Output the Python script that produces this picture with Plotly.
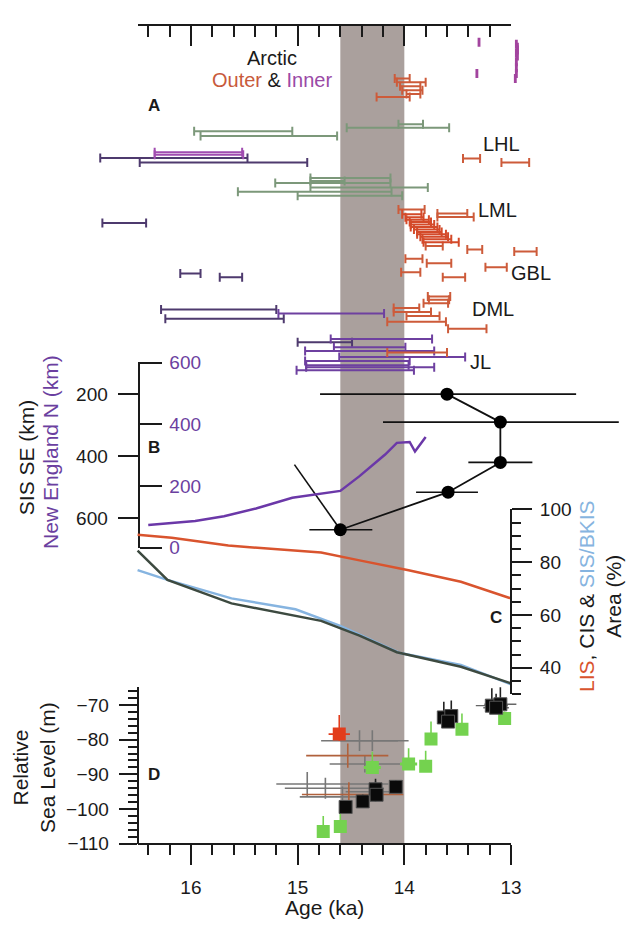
import plotly.graph_objects as go

W, H = 638, 930

# Age axis (ka), shared by every panel
AGE_OLD, AGE_YOUNG = 16.5, 13.0
AX_LEFT_PX, AX_RIGHT_PX = 140, 520

# ---------------- Panel A: dated age ranges (ka) ----------------
# Arctic outer
arctic_outer_row = [70, 74, 78, 82, 86, 89]
arctic_outer_old = [14.09, 14.07, 14.04, 14.02, 13.98, 14.26]
arctic_outer_young = [13.95, 13.80, 13.85, 13.83, 13.85, 13.95]

# Arctic inner (very narrow ranges)
arctic_inner_row = [33, 65, 35, 38, 41, 44, 47, 53, 59, 65, 70]
arctic_inner_age = [13.30, 13.32, 12.95, 12.94, 12.94, 12.95, 12.94, 12.95, 12.95, 12.95, 12.96]

# Other outer sites (LHL, LML, GBL, DML, JL)
outer_row = [152, 156, 204, 208.3, 211.7, 241.5, 245, 247, 254.5, 259, 263.3, 268.3,
             273.3, 293, 296.5, 300, 305, 309, 313, 319, 326, 350.5]
outer_old = [13.45, 13.09, 14.055, 13.69, 13.69, 13.80, 13.41, 12.97, 13.99, 13.79, 13.24,
             14.03, 13.64, 13.78, 13.77, 13.82, 14.10, 14.10, 13.98, 14.16, 13.59, 14.16]
outer_young = [13.29, 12.83, 13.81, 13.41, 13.35, 13.64, 13.27, 12.76, 13.83, 13.56, 13.04,
               13.85, 13.43, 13.57, 13.58, 13.59, 13.86, 13.75, 13.67, 13.61, 13.23, 13.60]

# LML dense cluster
lml_row = [209, 212, 214.5, 217, 219.5, 222, 224.5, 227, 229.5, 232, 234.5, 237.5]
lml_old = [14.02, 13.99, 13.98, 13.95, 13.94, 13.94, 13.91, 13.88, 13.88, 13.85, 13.83, 13.82]
lml_young = [13.84, 13.82, 13.77, 13.75, 13.72, 13.69, 13.67, 13.65, 13.61, 13.59, 13.56, 13.49]

# Green ranges
green_row = [117, 120.5, 124, 129, 172, 175, 177, 181.5, 186, 190]
green_old = [14.055, 14.54, 15.97, 15.91, 14.88, 14.88, 15.21, 14.88, 15.56, 15.00]
green_young = [13.825, 13.58, 15.05, 14.63, 14.13, 14.56, 14.13, 13.78, 14.12, 14.02]

# Inner sites (dark purple)
inner_row = [151.5, 156, 218, 269.5, 273.5, 306.5, 316, 340]
inner_old = [16.85, 16.48, 16.83, 16.10, 15.73, 16.28, 16.24, 15.00]
inner_young = [15.47, 14.91, 16.42, 15.91, 15.52, 15.20, 15.13, 14.49]

# Inner sites (light purple)
inner_light_row = [145.5, 148]
inner_light_old = [16.34, 16.34]
inner_light_young = [15.52, 15.51]

# JL inner cluster
jl_row = [310.5, 336.5, 345, 349, 355, 359, 363.5, 365.5, 368.5]
jl_old = [15.18, 14.69, 14.66, 14.93, 14.61, 14.93, 14.92, 14.92, 15.01]
jl_young = [14.19, 13.74, 13.99, 13.72, 13.43, 13.95, 13.96, 13.72, 13.91]

# ---------------- Panel B ----------------
ne_age = [16.40, 15.96, 15.69, 15.39, 15.05, 14.60, 14.42, 14.18, 14.07, 13.95, 13.90, 13.80]
ne_km = [73, 86, 102, 127, 162, 184, 232, 302, 340, 343, 312, 359]

sis_se_age = [13.60, 13.10, 13.10, 13.59, 14.60]
sis_se_km = [200, 290, 420, 516, 637]
sis_se_old = [14.79, 14.20, 13.40, 13.89, 14.89]
sis_se_young = [12.39, 11.99, 12.80, 13.31, 14.30]
sis_se_slant_age = [14.60, 15.03]
sis_se_slant_km = [637, 427]

# ---------------- Panel C: ice-sheet area (%) ----------------
lis_age = [16.5, 16.18, 15.65, 14.78, 14.42, 13.96, 13.47, 13.0]
lis_area = [90.4, 89.3, 86.3, 83.7, 80.7, 77.0, 72.6, 66.3]
cis_age = [16.5, 16.22, 15.62, 14.78, 14.42, 14.07, 13.47, 13.0]
cis_area = [84.4, 73.3, 64.4, 57.8, 52.2, 45.9, 40.4, 34.1]
sis_age = [16.5, 16.22, 15.62, 15.02, 14.60, 14.04, 13.47, 13.0]
sis_area = [77.0, 73.3, 66.3, 62.2, 55.9, 45.6, 41.1, 33.7]

# ---------------- Panel D: relative sea level (m) ----------------
green_sl_age = [14.76, 14.60, 14.30, 13.96, 13.80, 13.75, 13.46, 13.06]
green_sl = [-106.5, -105.0, -88.0, -87.0, -87.7, -79.8, -77.0, -73.9]
green_sl_up = [4.5, 5.0, 4.5, 4.5, 4.5, 5.0, 4.5, 2.0]
green_sl_xerr = [0, 0, 0.08, 0.08, 0, 0, 0, 0]

black_sl_age = [14.55, 14.39, 14.27, 14.26, 14.08, 13.63, 13.56, 13.59, 13.18, 13.10, 13.14]
black_sl = [-99.4, -97.8, -94.3, -95.9, -93.6, -73.6, -73.2, -74.8, -70.2, -69.8, -70.8]
black_sl_up = [0, 2, 3, 2, 2, 4.5, 4.5, 0, 5, 5, 4]
black_sl_xerr = [0, 0, 0, 0, 0, 0, 0, 0, 0.15, 0.15, 0.12]

red_sl_age = [14.61]
red_sl = [-78.4]
red_sl_up = [5.5]
red_sl_down = [2.0]
red_sl_xerr = [0.1]

grey_x_age = [14.42, 14.30, 14.37, 14.91, 14.74, 14.58, 14.27]
grey_x_sl = [-80.3, -80.3, -87.0, -92.8, -94.0, -96.5, -95.0]
grey_x_old = [14.78, 14.60, 14.70, 15.20, 15.12, 14.98, 14.55]
grey_x_young = [14.06, 13.96, 14.04, 14.15, 14.19, 14.40, 14.10]
grey_x_err = [3.0, 3.0, 2.5, 3.5, 3.0, 3.0, 3.0]

brown_x_age = [14.53, 14.52]
brown_x_sl = [-84.6, -95.8]
brown_x_old = [14.92, 14.96]
brown_x_young = [14.15, 14.01]
brown_x_err = [3.5, 3.5]

# ---------------- helpers ----------------
FONT = "Liberation Sans, Arial, sans-serif"
px_per_ka = (AX_RIGHT_PX - AX_LEFT_PX) / (AGE_OLD - AGE_YOUNG)
X_FULL = [AGE_OLD + AX_LEFT_PX / px_per_ka, AGE_YOUNG - (W - AX_RIGHT_PX) / px_per_ka]


def fx(px):
    return px / W


def fy(py):
    return 1 - py / H


def range_bars(rows, old, young, color, thick=2, cap=4.5):
    mid = [(o + y) / 2 for o, y in zip(old, young)]
    half = [(o - y) / 2 for o, y in zip(old, young)]
    return go.Scatter(x=mid, y=rows, mode="markers",
                      marker=dict(size=1, color=color, opacity=0),
                      error_x=dict(type="data", array=half, color=color,
                                   thickness=thick, width=cap),
                      xaxis="x", yaxis="y", hoverinfo="skip", showlegend=False)


def crosses(age, sl, old, young, err, color, thick=1.6):
    return go.Scatter(x=age, y=sl, mode="markers",
                      marker=dict(size=1, color=color, opacity=0),
                      error_x=dict(type="data", symmetric=False,
                                   array=[o - a for o, a in zip(old, age)],
                                   arrayminus=[a - y for a, y in zip(age, young)],
                                   color=color, thickness=thick, width=0),
                      error_y=dict(type="data", array=err, color=color,
                                   thickness=thick, width=0),
                      xaxis="x", yaxis="y5", hoverinfo="skip", showlegend=False)


fig = go.Figure()

# Panel A
fig.add_trace(range_bars(green_row, green_old, green_young, "#7c987a"))
fig.add_trace(range_bars(inner_row, inner_old, inner_young, "#4e3a6e"))
fig.add_trace(range_bars(inner_light_row, inner_light_old, inner_light_young, "#a04cb0"))
fig.add_trace(range_bars(jl_row, jl_old, jl_young, "#6e40a0"))
fig.add_trace(range_bars(arctic_outer_row, arctic_outer_old, arctic_outer_young, "#cd5b3a"))
fig.add_trace(range_bars(outer_row, outer_old, outer_young, "#cd5b3a"))
fig.add_trace(range_bars(lml_row, lml_old, lml_young, "#d44a2a"))
fig.add_trace(range_bars(arctic_inner_row, [a + 0.004 for a in arctic_inner_age],
                         [a - 0.004 for a in arctic_inner_age], "#a2449e"))

# Panel B
fig.add_trace(go.Scatter(x=ne_age, y=ne_km, mode="lines",
                         line=dict(color="#6b38a8", width=2.5),
                         xaxis="x", yaxis="y3", hoverinfo="skip", showlegend=False))
fig.add_trace(go.Scatter(x=sis_se_slant_age, y=sis_se_slant_km, mode="lines",
                         line=dict(color="#111111", width=1.6),
                         xaxis="x", yaxis="y2", hoverinfo="skip", showlegend=False))
fig.add_trace(go.Scatter(
    x=sis_se_age, y=sis_se_km, mode="lines+markers",
    line=dict(color="#111111", width=1.8),
    marker=dict(size=13, color="#000000"),
    error_x=dict(type="data", symmetric=False,
                 array=[o - a for o, a in zip(sis_se_old, sis_se_age)],
                 arrayminus=[a - y for a, y in zip(sis_se_age, sis_se_young)],
                 color="#111111", thickness=1.6, width=0),
    xaxis="x", yaxis="y2", hoverinfo="skip", showlegend=False))

# Panel C
fig.add_trace(go.Scatter(x=lis_age, y=lis_area, mode="lines",
                         line=dict(color="#d9542e", width=2.5),
                         xaxis="x", yaxis="y4", hoverinfo="skip", showlegend=False))
fig.add_trace(go.Scatter(x=sis_age, y=sis_area, mode="lines",
                         line=dict(color="#86b4e0", width=2.5),
                         xaxis="x", yaxis="y4", hoverinfo="skip", showlegend=False))
fig.add_trace(go.Scatter(x=cis_age, y=cis_area, mode="lines",
                         line=dict(color="#3d4a40", width=2.5),
                         xaxis="x", yaxis="y4", hoverinfo="skip", showlegend=False))

# Panel D
fig.add_trace(crosses(grey_x_age, grey_x_sl, grey_x_old, grey_x_young, grey_x_err, "#777777"))
fig.add_trace(crosses(brown_x_age, brown_x_sl, brown_x_old, brown_x_young, brown_x_err, "#b0613c"))
fig.add_trace(go.Scatter(
    x=green_sl_age, y=green_sl, mode="markers",
    marker=dict(symbol="square", size=13, color="#74d24f"),
    error_y=dict(type="data", symmetric=False, array=green_sl_up,
                 arrayminus=[0] * len(green_sl_up), color="#74d24f", thickness=1.6, width=0),
    error_x=dict(type="data", array=green_sl_xerr, color="#74d24f", thickness=3, width=0),
    xaxis="x", yaxis="y5", hoverinfo="skip", showlegend=False))
fig.add_trace(go.Scatter(
    x=black_sl_age, y=black_sl, mode="markers",
    marker=dict(symbol="square", size=13, color="#0a0a0a",
                line=dict(color="#555555", width=1)),
    error_y=dict(type="data", symmetric=False, array=black_sl_up,
                 arrayminus=[0] * len(black_sl_up), color="#222222", thickness=1.6, width=0),
    error_x=dict(type="data", array=black_sl_xerr, color="#666666", thickness=1.4, width=0),
    xaxis="x", yaxis="y5", hoverinfo="skip", showlegend=False))
fig.add_trace(go.Scatter(
    x=red_sl_age, y=red_sl, mode="markers",
    marker=dict(symbol="square", size=13, color="#e23d1c"),
    error_y=dict(type="data", symmetric=False, array=red_sl_up, arrayminus=red_sl_down,
                 color="#e23d1c", thickness=1.6, width=0),
    error_x=dict(type="data", array=red_sl_xerr, color="#e23d1c", thickness=1.6, width=0),
    xaxis="x", yaxis="y5", hoverinfo="skip", showlegend=False))

# anchors for the two visible age axes
fig.add_trace(go.Scatter(x=[AGE_YOUNG], y=[None], xaxis="x2", yaxis="y",
                         hoverinfo="skip", showlegend=False))
fig.add_trace(go.Scatter(x=[AGE_YOUNG], y=[None], xaxis="x3", yaxis="y5",
                         hoverinfo="skip", showlegend=False))

INK = "#1a1a1a"
age_dom = [fx(AX_LEFT_PX), fx(AX_RIGHT_PX)]
tickfont = dict(family=FONT, size=19, color=INK)

fig.update_layout(
    width=W, height=H, autosize=False,
    margin=dict(l=0, r=0, t=0, b=0),
    paper_bgcolor="white", plot_bgcolor="rgba(0,0,0,0)",
    font=dict(family=FONT, size=19, color=INK),
    xaxis=dict(domain=[0, 1], range=X_FULL, visible=False, anchor="y"),
    xaxis2=dict(domain=age_dom, range=[AGE_OLD, AGE_YOUNG], anchor="free",
                position=fy(15), side="top", showline=True, linecolor=INK, linewidth=2,
                ticks="inside", ticklen=20, tickwidth=2, tickcolor=INK,
                tickvals=[16, 15, 14, 13], showticklabels=False,
                minor=dict(ticks="inside", dtick=0.2, ticklen=11, tickwidth=2, tickcolor=INK),
                showgrid=False, zeroline=False),
    xaxis3=dict(domain=age_dom, range=[AGE_OLD, AGE_YOUNG], anchor="free",
                position=fy(853), side="bottom", showline=True, linecolor=INK, linewidth=2,
                ticks="outside", ticklen=20, tickwidth=2, tickcolor=INK,
                tickvals=[16, 15, 14, 13], ticktext=["16", "15", "14", "13"],
                tickfont=tickfont, ticklabelstandoff=6,
                minor=dict(ticks="outside", dtick=0.2, ticklen=10, tickwidth=2, tickcolor=INK),
                showgrid=False, zeroline=False),
    yaxis=dict(domain=[fy(375), fy(20)], range=[375, 20], visible=False, anchor="x"),
    yaxis2=dict(domain=[fy(550), fy(360)], range=[694.4, 96], anchor="free",
                position=fx(141), side="left", showline=True, linecolor=INK, linewidth=2,
                ticks="outside", ticklen=20, tickwidth=2, tickcolor=INK,
                tickvals=[200, 400, 600], tickfont=tickfont, ticklabelstandoff=6,
                showgrid=False, zeroline=False),
    yaxis3=dict(domain=[fy(550), fy(360)], range=[0, 603], anchor="free",
                position=fx(141), side="right", showline=True, linecolor=INK, linewidth=2,
                ticks="outside", ticklen=22, tickwidth=2, tickcolor=INK,
                tickvals=[0, 200, 400, 600],
                tickfont=dict(family=FONT, size=19, color="#6b3fa0"), ticklabelstandoff=4,
                showgrid=False, zeroline=False),
    yaxis4=dict(domain=[fy(700), fy(511)], range=[30, 100], anchor="free",
                position=fx(520), side="right", showline=True, linecolor=INK, linewidth=2,
                ticks="outside", ticklen=20, tickwidth=2, tickcolor=INK,
                tickvals=[40, 60, 80, 100], tickfont=tickfont, ticklabelstandoff=4,
                minor=dict(ticks="outside", dtick=5, ticklen=9, tickwidth=2, tickcolor=INK),
                showgrid=False, zeroline=False),
    yaxis5=dict(domain=[fy(853), fy(693)], range=[-110, -64.93], anchor="free",
                position=fx(140), side="left", showline=True, linecolor=INK, linewidth=2,
                ticks="outside", ticklen=18, tickwidth=2, tickcolor=INK,
                tickvals=[-110, -100, -90, -80, -70], tickfont=tickfont, ticklabelstandoff=6,
                minor=dict(ticks="outside", dtick=2, ticklen=9, tickwidth=2, tickcolor=INK),
                showgrid=False, zeroline=False),
)

# Bølling onset interval shading
fig.add_shape(type="rect", xref="x", yref="paper", x0=14.6, x1=14.0,
              y0=fy(853), y1=fy(15), fillcolor="#aaa09d", line=dict(width=0), layer="below")


def label(text, px, py, size=20, color=INK, angle=0, bold=False, align="center"):
    fig.add_annotation(x=fx(px), y=fy(py), xref="paper", yref="paper", text=text,
                       showarrow=False, textangle=angle, align=align,
                       font=dict(family=FONT, size=size, color=color,
                                 weight="bold" if bold else "normal"),
                       xanchor="center", yanchor="middle")


label("Arctic", 277, 49)
label("<span style='color:#c85a3c'>Outer</span> &amp; <span style='color:#9a4aa6'>Inner</span>",
      277, 72)
label("A", 157, 98, size=17, bold=True)
label("LHL", 510, 137)
label("LML", 506, 205)
label("GBL", 540, 269)
label("DML", 502, 306)
label("JL", 489, 360)
label("B", 157, 448, size=17, bold=True)
label("C", 505, 622, size=17, bold=True)
label("D", 157, 782, size=17, bold=True)

label("SIS SE (km)", 27, 458, size=21, angle=-90)
label("New England N (km)", 52, 452, size=21, color="#6b3fa0", angle=-90)
label("Relative<br>Sea Level (m)", 34, 775, size=21, angle=-90)
label("<span style='color:#d9542e'>LIS</span>, CIS &amp; "
      "<span style='color:#86b4e0'>SIS/BKIS</span><br>Area (%)",
      611, 600, size=21, angle=-90)
label("Age (ka)", 330, 918, size=21)

fig.write_html("out.html")
